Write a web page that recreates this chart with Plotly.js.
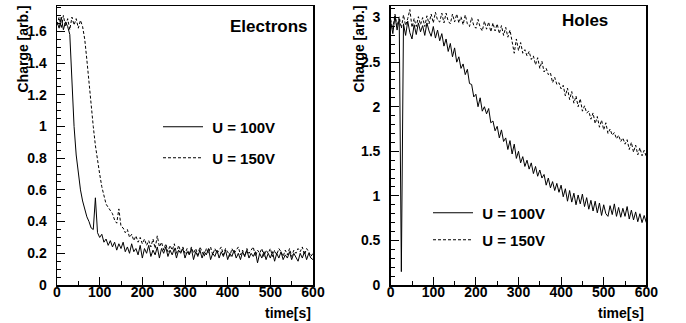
<!DOCTYPE html>
<html>
<head>
<meta charset="utf-8">
<script src="https://cdn.plot.ly/plotly-3.0.1.min.js"></script>
<style>html,body{margin:0;padding:0;background:#fff;}#chart{width:686px;height:323px;}</style>
</head>
<body>
<div id="chart"></div>
<script>
const time = [0,5,10,15,20,25,30,35,40,45,50,55,60,65,70,75,80,85,90,95,100,105,110,115,120,125,130,135,140,145,150,155,160,165,170,175,180,185,190,195,200,205,210,215,220,225,230,235,240,245,250,255,260,265,270,275,280,285,290,295,300,305,310,315,320,325,330,335,340,345,350,355,360,365,370,375,380,385,390,395,400,405,410,415,420,425,430,435,440,445,450,455,460,465,470,475,480,485,490,495,500,505,510,515,520,525,530,535,540,545,550,555,560,565,570,575,580,585,590,595,600];

const electrons100 = [1.66,1.62,1.69,1.61,1.66,1.63,1.58,1.30,1.00,0.82,0.70,0.60,0.53,0.47,0.43,0.40,0.36,0.35,0.55,0.33,0.30,0.32,0.27,0.29,0.25,0.28,0.24,0.27,0.22,0.26,0.23,0.27,0.21,0.24,0.20,0.26,0.21,0.23,0.19,0.25,0.17,0.23,0.20,0.25,0.18,0.22,0.19,0.24,0.17,0.23,0.20,0.24,0.18,0.22,0.19,0.23,0.17,0.22,0.20,0.23,0.17,0.21,0.19,0.23,0.16,0.21,0.18,0.22,0.17,0.21,0.19,0.23,0.16,0.20,0.18,0.22,0.17,0.21,0.18,0.22,0.16,0.20,0.18,0.22,0.17,0.20,0.16,0.21,0.18,0.22,0.17,0.20,0.18,0.21,0.14,0.20,0.17,0.21,0.16,0.20,0.17,0.21,0.15,0.20,0.17,0.21,0.16,0.19,0.17,0.21,0.16,0.20,0.17,0.15,0.20,0.17,0.21,0.16,0.20,0.17,0.16];

const electrons150 = [1.64,1.69,1.62,1.70,1.63,1.68,1.61,1.69,1.64,1.68,1.62,1.67,1.63,1.55,1.42,1.27,1.12,1.00,0.88,0.78,0.70,0.62,0.56,0.51,0.49,0.47,0.45,0.41,0.39,0.48,0.37,0.36,0.33,0.35,0.30,0.32,0.28,0.31,0.27,0.30,0.26,0.29,0.25,0.28,0.24,0.29,0.23,0.31,0.24,0.27,0.22,0.26,0.21,0.25,0.22,0.26,0.20,0.25,0.21,0.24,0.20,0.23,0.19,0.24,0.20,0.23,0.19,0.24,0.21,0.18,0.23,0.20,0.24,0.19,0.23,0.20,0.22,0.24,0.19,0.23,0.21,0.18,0.23,0.20,0.22,0.24,0.19,0.22,0.18,0.23,0.20,0.22,0.24,0.18,0.22,0.20,0.23,0.18,0.22,0.20,0.23,0.18,0.22,0.19,0.23,0.21,0.18,0.22,0.19,0.23,0.18,0.22,0.20,0.23,0.21,0.24,0.19,0.23,0.21,0.18,0.20];

const holes100 = [2.95,2.82,3.02,2.86,2.98,0.15,2.93,2.80,2.96,2.83,2.76,2.92,2.81,2.94,2.84,2.91,2.80,2.94,2.85,2.79,2.90,2.77,2.86,2.74,2.82,2.68,2.76,2.62,2.71,2.56,2.66,2.50,2.56,2.43,2.48,2.36,2.42,2.26,2.25,2.11,2.14,2.00,2.10,1.95,2.00,1.92,1.98,1.82,1.84,1.73,1.78,1.65,1.74,1.61,1.65,1.52,1.62,1.47,1.58,1.42,1.50,1.37,1.44,1.33,1.40,1.30,1.37,1.25,1.33,1.22,1.29,1.20,1.24,1.12,1.20,1.09,1.16,1.06,1.14,1.04,1.12,0.99,1.08,0.94,1.06,0.93,1.03,0.90,1.01,0.91,1.02,0.88,0.98,0.85,0.95,0.83,0.94,0.81,0.92,0.78,0.90,0.80,0.77,0.89,0.79,0.91,0.77,0.87,0.76,0.86,0.77,0.88,0.74,0.84,0.73,0.82,0.71,0.80,0.70,0.78,0.70];

const holes150 = [2.98,2.87,3.04,2.90,3.01,2.88,3.03,2.91,2.99,3.09,2.89,2.99,2.90,3.01,2.92,3.00,2.90,3.02,2.93,3.04,2.94,3.06,2.97,2.95,3.05,2.94,3.05,2.96,2.93,3.04,2.95,3.04,2.94,3.01,2.92,3.03,2.93,2.90,3.00,2.91,2.88,2.98,2.89,2.85,2.96,2.87,2.95,2.84,2.94,2.85,2.93,2.82,2.91,2.80,2.89,2.78,2.86,2.74,2.60,2.76,2.63,2.72,2.60,2.64,2.57,2.62,2.53,2.57,2.47,2.55,2.43,2.51,2.39,2.43,2.36,2.38,2.27,2.33,2.25,2.27,2.20,2.24,2.12,2.21,2.08,2.17,2.04,2.12,2.00,2.09,1.95,2.01,1.93,1.95,1.86,1.93,1.81,1.89,1.77,1.85,1.74,1.82,1.70,1.75,1.68,1.71,1.64,1.68,1.61,1.65,1.58,1.63,1.52,1.60,1.49,1.57,1.46,1.54,1.45,1.51,1.44];

const seriesNames = ['U = 100V', 'U = 150V'];
const panelTitles = ['Electrons', 'Holes'];
const yTitle = 'Charge [arb.]';
const xTitle = 'time[s]';

const W = 686, H = 323;
const px = v => v / W;
const py = v => 1 - v / H;
const FAM = 'Liberation Sans, Arial, Helvetica, sans-serif';
const fontB = {family: FAM, size: 14, color: '#000', weight: 'bold'};

function trace(y, name, dash, xa, ya, leg) {
  return {
    x: time, y: y, name: '\u00a0' + name, type: 'scatter', mode: 'lines',
    line: {color: '#000', width: 1, dash: dash},
    xaxis: xa, yaxis: ya, legend: leg, showlegend: true
  };
}

const data = [
  trace(electrons100, seriesNames[0], 'solid', 'x', 'y', 'legend'),
  trace(electrons150, seriesNames[1], '3px,2px', 'x', 'y', 'legend2'),
  trace(holes100, seriesNames[0], 'solid', 'x2', 'y2', 'legend3'),
  trace(holes150, seriesNames[1], '3px,2px', 'x2', 'y2', 'legend4')
];

function xaxis(dom, anchor) {
  return {
    domain: dom, anchor: anchor, range: [0, 600], dtick: 100, tick0: 0,
    ticks: 'inside', ticklen: 8, tickwidth: 1, tickcolor: '#000',
    minor: {ticks: 'inside', ticklen: 4, dtick: 50, tickcolor: '#000', tickwidth: 1},
    showline: true, linecolor: '#000', linewidth: 1.5, mirror: true,
    showgrid: false, zeroline: false, tickfont: fontB, ticklabelstandoff: -6,
    fixedrange: true
  };
}
function yaxis(range, dt, mdt, anchor) {
  return {
    domain: [py(285), py(6)], anchor: anchor, range: range, dtick: dt, tick0: 0,
    ticks: 'inside', ticklen: 8, tickwidth: 1, tickcolor: '#000',
    minor: {ticks: 'inside', ticklen: 4, dtick: mdt, tickcolor: '#000', tickwidth: 1},
    showline: true, linecolor: '#000', linewidth: 1.5, mirror: true,
    showgrid: false, zeroline: false, tickfont: fontB, ticklabelstandoff: 6,
    fixedrange: true
  };
}

function leg(x, y) {
  return {x: px(x), y: py(y), xanchor: 'left', yanchor: 'middle',
    bgcolor: 'rgba(0,0,0,0)', borderwidth: 0, itemwidth: 40,
    font: {family: FAM, size: 15, color: '#000', weight: 'bold'}};
}

const layout = {
  width: W, height: H,
  margin: {l: 0, r: 0, t: 0, b: 0},
  paper_bgcolor: '#fff', plot_bgcolor: '#fff',
  showlegend: true,
  xaxis: xaxis([px(57), px(313)], 'y'),
  yaxis: yaxis([0, 1.76], 0.2, 0.05, 'x'),
  xaxis2: xaxis([px(390.7), px(646.3)], 'y2'),
  yaxis2: yaxis([0, 3.13], 0.5, 0.1, 'x2'),
  legend: leg(158, 127),
  legend2: leg(158, 158),
  legend3: leg(428, 213),
  legend4: leg(428, 240),
  annotations: [
    {text: panelTitles[0], xref: 'paper', yref: 'paper', x: px(268), y: py(27), xanchor: 'center', yanchor: 'middle', showarrow: false,
     font: {family: FAM, size: 17, color: '#000', weight: 'bold'}},
    {text: panelTitles[1], xref: 'paper', yref: 'paper', x: px(585), y: py(20), xanchor: 'center', yanchor: 'middle', showarrow: false,
     font: {family: FAM, size: 17, color: '#000', weight: 'bold'}},
    {text: yTitle, xref: 'paper', yref: 'paper', x: px(22), y: py(4), xanchor: 'center', yanchor: 'top', textangle: -90, showarrow: false, font: fontB},
    {text: yTitle, xref: 'paper', yref: 'paper', x: px(358), y: py(4), xanchor: 'center', yanchor: 'top', textangle: -90, showarrow: false, font: fontB},
    {text: xTitle, xref: 'paper', yref: 'paper', x: px(313), y: py(313), xanchor: 'right', yanchor: 'middle', showarrow: false, font: fontB},
    {text: xTitle, xref: 'paper', yref: 'paper', x: px(646.3), y: py(313), xanchor: 'right', yanchor: 'middle', showarrow: false, font: fontB}
  ]
};

Plotly.newPlot('chart', data, layout, {displayModeBar: false, staticPlot: true});
</script>
</body>
</html>
